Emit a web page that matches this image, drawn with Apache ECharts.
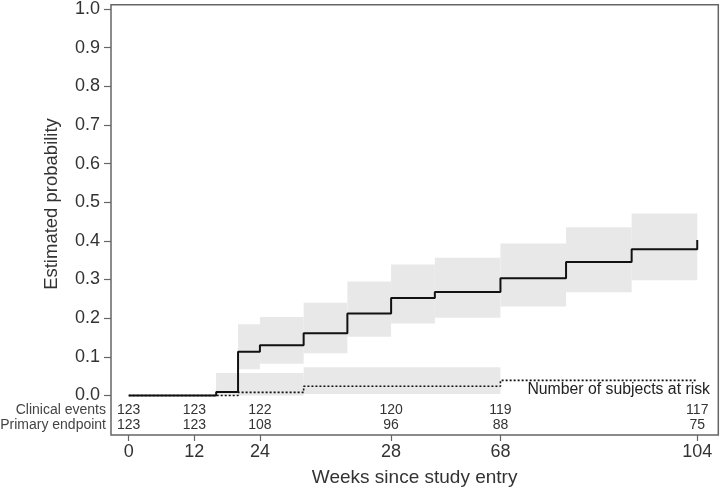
<!DOCTYPE html>
<html>
<head>
<meta charset="utf-8">
<script src="https://cdn.jsdelivr.net/npm/echarts@6/dist/echarts.min.js"></script>
<style>html,body{margin:0;padding:0;background:#fff}#c{width:720px;height:492px}</style>
</head>
<body>
<div id="c"></div>
<script>
// Clinical events (solid step): event times (weeks) and estimated probability
var clinTimes = [0, 16, 20, 24, 32, 40, 48, 56, 68, 80, 92, 104];
var clinProb  = [0, 0.009, 0.113, 0.130, 0.161, 0.212, 0.252, 0.268, 0.303, 0.345, 0.378, 0.402];
// Clinical events confidence band segments
var clinBandStart = [16, 20, 24, 32, 40, 48, 56, 68, 80, 92];
var clinBandEnd   = [20, 24, 32, 40, 48, 56, 68, 80, 92, 104];
var clinBandLow   = [0, 0.068, 0.082, 0.109, 0.152, 0.186, 0.201, 0.230, 0.267, 0.298];
var clinBandHigh  = [0.058, 0.184, 0.203, 0.240, 0.295, 0.339, 0.356, 0.393, 0.435, 0.471];

// Primary endpoint (dotted step)
var primTimes = [0, 20, 32, 68, 104];
var primProb  = [0, 0.008, 0.024, 0.039, 0.039];
var primBandStart = [16, 32];
var primBandEnd   = [32, 68];
var primBandLow   = [0, 0.004];
var primBandHigh  = [0.058, 0.073];

// Axis ticks
var xTickValues = [0, 12, 24, 48, 68, 104];
var xTickLabels = ['0', '12', '24', '28', '68', '104'];
var yTickValues = [0, 0.1, 0.2, 0.3, 0.4, 0.5, 0.6, 0.7, 0.8, 0.9, 1.0];

// Number at risk table
var riskRows = ['Clinical events', 'Primary endpoint'];
var riskClinical = [123, 123, 122, 120, 119, 117];
var riskPrimary  = [123, 123, 108, 96, 88, 75];

var X_MIN = -3.24, X_MAX = 107.85, Y_MIN = -0.1023, Y_MAX = 1.011;
var ROW_Y = [-0.0384, -0.0767];
var FONT = 'Liberation Sans, Arial, Helvetica, sans-serif';

function pairs(xs, ys){ return xs.map(function(x,i){ return [x, ys[i]]; }); }
function bands(s, e, lo, hi){ return s.map(function(v,i){ return [v, e[i], lo[i], hi[i]]; }); }

function bandRender(params, api){
  var p0 = api.coord([api.value(0), api.value(3)]);
  var p1 = api.coord([api.value(1), api.value(2)]);
  return {type:'rect', shape:{x:p0[0], y:p0[1], width:p1[0]-p0[0], height:p1[1]-p0[1]},
          style:{fill:'#e8e8e8'}};
}

var riskData = [];
xTickValues.forEach(function(x,i){
  riskData.push([x, ROW_Y[0], riskClinical[i]]);
  riskData.push([x, ROW_Y[1], riskPrimary[i]]);
});

var chart = echarts.init(document.getElementById('c'), null, {renderer:'canvas'});
chart.setOption({
  animation:false,
  backgroundColor:'#fff',
  grid:{left:111, top:4, right:1.7, bottom:53, show:true, borderColor:'#666', borderWidth:1.5, backgroundColor:'transparent'},
  xAxis:{
    type:'value', min:X_MIN, max:X_MAX,
    axisLine:{show:false, onZero:false},
    splitLine:{show:false},
    axisTick:{show:true, inside:false, customValues:xTickValues, length:6, lineStyle:{color:'#666', width:1.2}},
    axisLabel:{customValues:xTickValues, margin:8, fontSize:18, color:'#333', fontFamily:FONT,
      formatter:function(v){ var i = xTickValues.indexOf(v); return i>=0 ? xTickLabels[i] : ''; }},
    name:'Weeks since study entry', nameLocation:'middle', nameGap:33,
    nameTextStyle:{fontSize:19, color:'#333', fontFamily:FONT}
  },
  yAxis:{
    type:'value', min:Y_MIN, max:Y_MAX,
    axisLine:{show:false, onZero:false},
    splitLine:{show:false},
    axisTick:{show:true, inside:false, customValues:yTickValues, length:7, lineStyle:{color:'#666', width:1.2}},
    axisLabel:{customValues:yTickValues, margin:11, fontSize:18, color:'#333', fontFamily:FONT,
      formatter:function(v){ return v.toFixed(1); }}
  },
  graphic:[
    {type:'text', x:52, y:204, rotation:Math.PI/2,
     style:{text:'Estimated probability', font:'18.5px ' + FONT, fill:'#333', align:'center', verticalAlign:'middle'}},
    {type:'text', right:10, top:382,
     style:{text:'Number of subjects at risk', font:'15.8px ' + FONT, fill:'#222'}}
  ],
  series:[
    {type:'custom', renderItem:bandRender, data:bands(clinBandStart, clinBandEnd, clinBandLow, clinBandHigh), z:1, silent:true},
    {type:'custom', renderItem:bandRender, data:bands(primBandStart, primBandEnd, primBandLow, primBandHigh), z:1, silent:true},
    {type:'line', step:'end', data:pairs(primTimes, primProb), symbol:'none', z:3,
     lineStyle:{color:'#111', width:1.6, type:[2,2]}},
    {type:'line', step:'end', data:pairs(clinTimes, clinProb), symbol:'none', z:4,
     lineStyle:{color:'#111', width:2}},
    {type:'custom', z:5, silent:true, data:riskData,
     renderItem:function(params, api){
       var p = api.coord([api.value(0), api.value(1)]);
       return {type:'text', x:p[0], y:p[1], style:{text:String(api.value(2)), font:'14px ' + FONT, fill:'#333', align:'center', verticalAlign:'middle'}};
     }},
    {type:'custom', z:5, silent:true, data:riskRows.map(function(r,i){ return [X_MIN, ROW_Y[i], i]; }),
     renderItem:function(params, api){
       var p = api.coord([api.value(0), api.value(1)]);
       return {type:'text', x:p[0]-5, y:p[1], style:{text:riskRows[api.value(2)], font:'14px ' + FONT, fill:'#444', align:'right', verticalAlign:'middle'}};
     }}
  ]
});
</script>
</body>
</html>
